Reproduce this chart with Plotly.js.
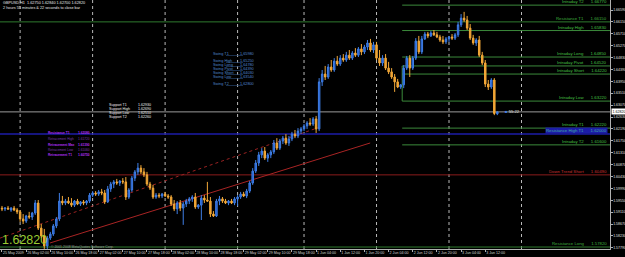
<!DOCTYPE html>
<html><head><meta charset="utf-8">
<script src="https://cdn.plot.ly/plotly-3.0.1.min.js"></script>
<style>html,body{margin:0;padding:0;background:#000;overflow:hidden}#chart{width:625px;height:257px}</style>
</head><body><div id="chart"></div>
<script>
// ---------------- DATA ----------------
const symbolTitle = "GBPUSD,H1  1.62750 1.62840 1.62700 1.62820";
const timerText = "2 hours 55 minutes & 22 seconds to close bar";
const bigPriceText = "1.62820";
const copyrightText = "\u00a9 2001-2008 MetaQuotes Software Corp.";
const countdownText = "55:22";

const openP = [
1.5926,1.5923,1.5926,1.5919,1.5926,1.5919,1.5912,1.5886,1.5878,1.5897,
1.5893,1.5908,1.5945,1.5852,1.5823,1.5786,1.5815,1.5830,1.5860,1.5886,
1.5952,1.5945,1.5952,1.5945,1.5937,1.5952,1.5941,1.5949,1.5945,1.5952,
1.5974,1.5982,1.5978,1.5986,1.5982,1.5949,1.5997,1.6015,1.6023,1.6019,
1.6026,1.6023,1.5967,1.5993,1.6037,1.6060,1.6074,1.6060,1.6049,1.6015,
1.6000,1.5967,1.5974,1.5971,1.5978,1.5971,1.5967,1.5941,1.5923,1.5945,
1.5926,1.5941,1.5952,1.5960,1.5967,1.5930,1.5937,1.5963,1.5956,1.5952,
1.5904,1.5897,1.5952,1.5960,1.5952,1.5945,1.5952,1.5945,1.5960,1.5967,
1.5978,1.5971,1.5989,1.6019,1.6063,1.6093,1.6123,1.6137,1.6111,1.6123,
1.6134,1.6167,1.6148,1.6174,1.6185,1.6167,1.6182,1.6200,1.6193,1.6211,
1.6219,1.6230,1.6241,1.6237,1.6256,1.6219,1.6393,1.6422,1.6411,1.6448,
1.6437,1.6470,1.6459,1.6481,1.6474,1.6492,1.6481,1.6500,1.6492,1.6515,
1.6504,1.6522,1.6537,1.6511,1.6530,1.6481,1.6463,1.6481,1.6444,1.6430,
1.6411,1.6393,1.6374,1.6382,1.6444,1.6481,1.6444,1.6481,1.6544,1.6504,
1.6552,1.6570,1.6563,1.6574,1.6567,1.6559,1.6548,1.6541,1.6552,1.6559,
1.6555,1.6567,1.6604,1.6629,1.6622,1.6592,1.6555,1.6537,1.6548,1.6492,
1.6463,1.6385,1.6374,1.6400,1.6275];
const highP = [
1.5934,1.5930,1.5934,1.5930,1.5934,1.5926,1.5919,1.5904,1.5901,1.5912,
1.5912,1.5956,1.5956,1.5867,1.5849,1.5823,1.5838,1.5867,1.5893,1.5982,
1.5971,1.5960,1.5967,1.5963,1.5956,1.5960,1.5952,1.5956,1.5956,1.5982,
1.5989,1.5989,1.5993,1.5997,1.5993,1.6008,1.6023,1.6030,1.6034,1.6030,
1.6037,1.6041,1.6000,1.6045,1.6067,1.6093,1.6085,1.6074,1.6060,1.6023,
1.6012,1.5982,1.5982,1.5982,1.5986,1.5978,1.5974,1.5956,1.5952,1.5956,
1.5949,1.5960,1.5967,1.5974,1.5982,1.5941,1.5974,1.5974,1.6023,1.5967,
1.5915,1.5960,1.5971,1.5967,1.5960,1.5956,1.5960,1.5967,1.5974,1.5986,
1.5986,1.5997,1.6026,1.6074,1.6104,1.6134,1.6148,1.6152,1.6130,1.6141,
1.6178,1.6185,1.6182,1.6193,1.6200,1.6193,1.6208,1.6215,1.6222,1.6226,
1.6237,1.6248,1.6259,1.6263,1.6267,1.6407,1.6437,1.6452,1.6459,1.6474,
1.6481,1.6489,1.6492,1.6496,1.6504,1.6511,1.6507,1.6518,1.6522,1.6533,
1.6530,1.6548,1.6552,1.6541,1.6541,1.6511,1.6492,1.6496,1.6467,1.6444,
1.6422,1.6404,1.6385,1.6455,1.6489,1.6492,1.6489,1.6555,1.6563,1.6563,
1.6578,1.6578,1.6581,1.6585,1.6578,1.6567,1.6563,1.6559,1.6563,1.6570,
1.6574,1.6615,1.6644,1.6652,1.6637,1.6607,1.6567,1.6555,1.6563,1.6504,
1.6474,1.6400,1.6407,1.6407,1.6284];
const lowP = [
1.5915,1.5915,1.5919,1.5912,1.5915,1.5904,1.5875,1.5867,1.5871,1.5886,
1.5882,1.5901,1.5845,1.5815,1.5775,1.5775,1.5808,1.5823,1.5852,1.5878,
1.5937,1.5937,1.5941,1.5930,1.5930,1.5937,1.5934,1.5937,1.5937,1.5945,
1.5967,1.5971,1.5971,1.5974,1.5941,1.5945,1.5986,1.6000,1.6012,1.6008,
1.6015,1.5956,1.5960,1.5986,1.6026,1.6049,1.6052,1.6041,1.6008,1.5993,
1.5960,1.5960,1.5963,1.5963,1.5967,1.5960,1.5934,1.5915,1.5904,1.5915,
1.5864,1.5930,1.5941,1.5949,1.5923,1.5923,1.5882,1.5945,1.5949,1.5893,
1.5893,1.5893,1.5937,1.5945,1.5941,1.5937,1.5941,1.5937,1.5934,1.5960,
1.5967,1.5963,1.5982,1.6012,1.6056,1.6082,1.6111,1.6104,1.6097,1.6111,
1.6126,1.6141,1.6141,1.6163,1.6160,1.6156,1.6174,1.6185,1.6185,1.6200,
1.6211,1.6219,1.6230,1.6230,1.6204,1.6211,1.6378,1.6400,1.6404,1.6430,
1.6430,1.6452,1.6452,1.6467,1.6467,1.6474,1.6474,1.6485,1.6485,1.6492,
1.6496,1.6511,1.6504,1.6500,1.6474,1.6452,1.6452,1.6437,1.6422,1.6404,
1.6356,1.6370,1.6367,1.6370,1.6437,1.6411,1.6437,1.6474,1.6496,1.6496,
1.6548,1.6555,1.6559,1.6563,1.6555,1.6541,1.6533,1.6533,1.6541,1.6548,
1.6548,1.6559,1.6596,1.6615,1.6585,1.6548,1.6530,1.6526,1.6485,1.6455,
1.6374,1.6363,1.6367,1.6270,1.6270];
const closeP = [
1.5923,1.5926,1.5923,1.5926,1.5919,1.5912,1.5886,1.5878,1.5897,1.5893,
1.5908,1.5945,1.5852,1.5823,1.5786,1.5815,1.5830,1.5860,1.5886,1.5952,
1.5945,1.5952,1.5945,1.5937,1.5952,1.5941,1.5949,1.5945,1.5952,1.5974,
1.5982,1.5978,1.5986,1.5982,1.5949,1.5997,1.6015,1.6023,1.6019,1.6026,
1.6023,1.5967,1.5993,1.6037,1.6060,1.6074,1.6060,1.6049,1.6015,1.6000,
1.5967,1.5974,1.5971,1.5978,1.5971,1.5967,1.5941,1.5923,1.5945,1.5926,
1.5941,1.5952,1.5960,1.5967,1.5930,1.5937,1.5963,1.5956,1.5952,1.5904,
1.5897,1.5952,1.5960,1.5952,1.5945,1.5952,1.5945,1.5960,1.5967,1.5978,
1.5971,1.5989,1.6019,1.6063,1.6093,1.6123,1.6137,1.6111,1.6123,1.6134,
1.6167,1.6148,1.6174,1.6185,1.6167,1.6182,1.6200,1.6193,1.6211,1.6219,
1.6230,1.6241,1.6237,1.6256,1.6219,1.6393,1.6422,1.6411,1.6448,1.6437,
1.6470,1.6459,1.6481,1.6474,1.6492,1.6481,1.6500,1.6492,1.6515,1.6504,
1.6522,1.6537,1.6511,1.6530,1.6481,1.6463,1.6481,1.6444,1.6430,1.6411,
1.6393,1.6374,1.6382,1.6444,1.6481,1.6444,1.6481,1.6544,1.6504,1.6552,
1.6570,1.6563,1.6574,1.6567,1.6559,1.6548,1.6541,1.6552,1.6559,1.6555,
1.6567,1.6604,1.6629,1.6622,1.6592,1.6555,1.6537,1.6548,1.6492,1.6463,
1.6385,1.6374,1.6400,1.6276,1.6282];

// time axis (bar index of each label)
const xTickIdx  = [0,8,16,24,32,40,48,56,64,72,80,88,96,104,112,120,128,136,144,152,160];
const xTickText = ["25 May 2009","26 May 02:00","26 May 10:00","26 May 18:00","27 May 02:00","27 May 10:00",
  "27 May 18:00","28 May 02:00","28 May 10:00","28 May 18:00","29 May 02:00","29 May 10:00","29 May 18:00",
  "1 Jun 04:00","1 Jun 12:00","1 Jun 20:00","2 Jun 04:00","2 Jun 12:00","2 Jun 20:00","3 Jun 04:00","3 Jun 12:00"];
const daySeparators = [6,30,54,78,100,124,148,172];

// price axis labels
const yTickVals = [1.66590,1.66150,1.65710,1.65270,1.64830,1.64390,1.63950,1.63510,1.63070,1.62630,
  1.62190,1.61750,1.61310,1.60870,1.60430,1.59990,1.59550,1.59110,1.58670,1.58230,1.57790];
const currentPrice = 1.62820;

// horizontal levels
const levelNames  = ["Intraday T2","Resistance T1","Intraday High","Intraday Long","Intraday Pivot","Intraday Short",
  "Intraday Low","Intraday T1","Resistance High T1","Intraday T2","Down Trend Short","Resistance Long"];
const levelPrices = [1.6677,1.6615,1.6583,1.6485,1.6452,1.6422,1.6322,1.6222,1.6200,1.6160,1.6049,1.5782];
const levelStart  = [132.5,-1,132.5,132.5,132.5,132.5,132.5,132.5,-1,132.5,-1,-1];
const levelKind   = ["intra","res","intra","intra","intra","intra","intra","intra","blue","intra","red","res"];
const pivotConnector = [1.6452,1.6322];

// trend lines (bar index, price)
const trendDotX = [-0.66,105.3], trendDotY = [1.5815,1.6226];
const trendSolidX = [15.9,121.9], trendSolidY = [1.5797,1.6167];

// text blocks
const swingLabels = ["Swing T1","Swing High","Swing Long","Swing Pivot","Swing Short","Swing Low","Swing T2"];
const swingValues = ["1.65980","1.65250","1.64780","1.64390","1.64030","1.63540","1.62800"];
const supportLabels = ["Support T1","Support High","Support Low","Support T2"];
const supportValues = ["1.62930","1.62690","1.62510","1.62260"];
const retraceLabels = ["Resistance T1","Retracement High","Retracement Max","Retracement Low","Retracement T1"];
const retraceValues = ["1.62080","1.61720","1.61390","1.61060","1.60750"];

// ---------------- DRAW ----------------
const W = 625, H = 257, mR = 15, mB = 8;
const plotW = W - mR, plotH = H - mB;
const xMin = -0.66, xMax = 201.3, yMax = 1.6696, yMin = 1.6696 - 0.00037 * plotH;
const FONT = "Liberation Sans, Arial, sans-serif";
const px = v => v / plotW, py = v => 1 - v / plotH;

const idx = openP.map((_, i) => i);
const candles = {
  type: "candlestick", x: idx, open: openP, high: highP, low: lowP, close: closeP,
  increasing: {line: {color: "#3f7fe6", width: 1}, fillcolor: "#1f55c8"},
  decreasing: {line: {color: "#f2a838", width: 1}, fillcolor: "#f0a030"},
  whiskerwidth: 0, hoverinfo: "skip", showlegend: false
};

const shapes = [];
daySeparators.forEach(d => shapes.push({type: "line", xref: "x", yref: "paper", x0: d, x1: d, y0: 0, y1: 1,
  line: {color: "#b8b8b8", width: 1, dash: "dot"}, layer: "below"}));
const kindStyle = {
  intra: {line: "#3b8a3b", text: "#45c045", w: 1},
  res:   {line: "#2f7a2f", text: "#3fb03f", w: 1},
  blue:  {line: "#1c1ca8", text: "#40b0a0", w: 1.6},
  red:   {line: "#8a1c1c", text: "#c83030", w: 1}
};
levelPrices.forEach((p, i) => {
  const st = kindStyle[levelKind[i]];
  shapes.push({type: "line", xref: "x", yref: "y", x0: levelStart[i], x1: xMax, y0: p, y1: p,
    line: {color: st.line, width: st.w}, layer: "below"});
});
shapes.push({type: "line", xref: "x", yref: "y", x0: 132.5, x1: 132.5, y0: pivotConnector[0], y1: pivotConnector[1],
  line: {color: "#3b8a3b", width: 1}, layer: "below"});
shapes.push({type: "line", xref: "x", yref: "y", x0: xMin, x1: xMax, y0: currentPrice, y1: currentPrice,
  line: {color: "#9a9a9a", width: 1}, layer: "below"});
shapes.push({type: "line", xref: "x", yref: "y", x0: trendDotX[0], x1: trendDotX[1], y0: trendDotY[0], y1: trendDotY[1],
  line: {color: "#9a2222", width: 1, dash: "dot"}, layer: "below"});
shapes.push({type: "line", xref: "x", yref: "y", x0: trendSolidX[0], x1: trendSolidX[1], y0: trendSolidY[0], y1: trendSolidY[1],
  line: {color: "#a82424", width: 1}, layer: "below"});

const annotations = [];
function ann(xp, yp, text, size, color, xanchor, extra) {
  annotations.push(Object.assign({xref: "paper", yref: "paper", x: px(xp), y: py(yp), text: text, showarrow: false,
    xanchor: xanchor || "left", yanchor: "middle", borderpad: 0,
    font: {family: FONT, size: size, color: color}}, extra || {}));
}
// header texts
ann(2, 3.5, symbolTitle, 3.8, "#e6e6e6");
ann(2, 8, timerText, 3.8, "#e6e6e6");
// level labels
levelPrices.forEach((p, i) => {
  const st = kindStyle[levelKind[i]];
  const extra = levelKind[i] === "blue" ? {bgcolor: "#1c1ca8"} : {};
  annotations.push(Object.assign({xref: "paper", yref: "y", x: px(608), y: p, xanchor: "right", yanchor: "bottom",
    showarrow: false, borderpad: 0,
    text: levelNames[i] + "\u00a0\u00a0\u00a0\u00a0\u00a0\u00a0" + p.toFixed(5),
    font: {family: FONT, size: 4.3, color: st.text}}, extra));
});
// current price tag on axis
annotations.push({xref: "paper", yref: "y", x: 1, y: currentPrice, xanchor: "left", yanchor: "middle", showarrow: false,
  text: currentPrice.toFixed(5), bgcolor: "#ffffff", borderpad: 0.5, xshift: 1,
  font: {family: FONT, size: 3.6, color: "#000000"}});
// countdown near last bar
annotations.push({xref: "x", yref: "y", x: 166, y: currentPrice, xanchor: "left", yanchor: "middle", showarrow: false,
  text: '<span style="color:#3f7fe6">\u25A0</span> ' + countdownText, font: {family: FONT, size: 4.2, color: "#e0e0e0"}});
// swing block (blue)
const swingY = [54, 61, 65, 69, 73, 77, 84];
swingLabels.forEach((t, i) => {
  ann(212, swingY[i], t, 3.8, "#4f86c9");
  ann(255, swingY[i], swingValues[i], 3.8, "#4f86c9", "right");
  shapes.push({type: "line", xref: "paper", yref: "paper", x0: px(226), x1: px(243), y0: py(swingY[i] + 1.5), y1: py(swingY[i] + 1.5),
    line: {color: "#2c4f80", width: 0.6}});
});
// support block (white)
const supportY = [105, 109, 113, 117];
supportLabels.forEach((t, i) => {
  ann(108, supportY[i], t, 3.6, "#f0f0f0");
  ann(152, supportY[i], supportValues[i], 3.6, "#f0f0f0", "right");
});
// retracement block (purple)
const retraceY = [133, 139, 145, 150, 155];
retraceLabels.forEach((t, i) => {
  const bright = i % 2 === 0;
  ann(47, retraceY[i], bright ? "<b>" + t + "</b>" : t, 3.2, bright ? "#b030f0" : "#7a3aa8");
  ann(91, retraceY[i], bright ? "<b>" + retraceValues[i] + "</b>" : retraceValues[i], 3.2, bright ? "#b030f0" : "#7a3aa8", "right");
});
// bottom-left texts
ann(50, 246.5, copyrightText, 3.4, "#9a9a9a", "left");
annotations.push({xref: "paper", yref: "paper", x: px(1), y: py(248), xanchor: "left", yanchor: "bottom", showarrow: false,
  borderpad: 0, text: bigPriceText, font: {family: FONT, size: 12.5, color: "#9acd32"}});

const layout = {
  width: W, height: H, margin: {l: 0, r: mR, t: 0, b: mB, pad: 0},
  paper_bgcolor: "#000000", plot_bgcolor: "#000000", showlegend: false,
  xaxis: {type: "linear", range: [xMin, xMax], showgrid: false, zeroline: false,
    tickmode: "array", tickvals: xTickIdx, ticktext: xTickText, ticks: "outside", ticklen: 1.5, tickcolor: "#b0b0b0",
    tickangle: 0, ticklabelposition: "outside right", ticklabelstandoff: 0,
    tickfont: {family: FONT, size: 3.6, color: "#d0d0d0"},
    showline: true, linecolor: "#b0b0b0", linewidth: 1, rangeslider: {visible: false}, fixedrange: true},
  yaxis: {range: [yMin, yMax], side: "right", showgrid: false, zeroline: false,
    tickmode: "array", tickvals: yTickVals, ticktext: yTickVals.map(v => v.toFixed(5)),
    ticks: "outside", ticklen: 1.5, tickcolor: "#b0b0b0", ticklabelstandoff: 0,
    tickfont: {family: FONT, size: 3.5, color: "#e0e0e0"},
    showline: true, linecolor: "#b0b0b0", linewidth: 1, fixedrange: true},
  shapes: shapes, annotations: annotations
};
Plotly.newPlot("chart", [candles], layout, {staticPlot: true, displayModeBar: false});
</script></body></html>
